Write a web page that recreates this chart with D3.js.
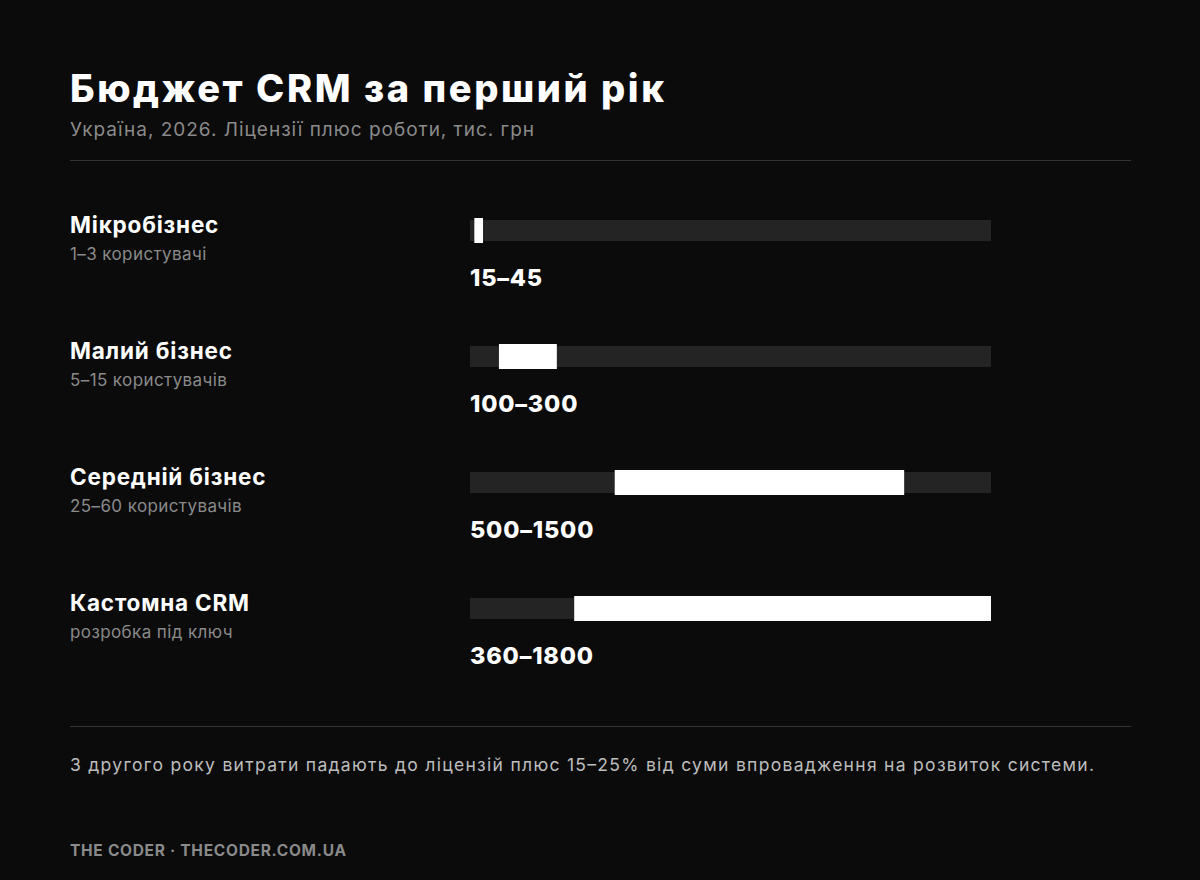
<!DOCTYPE html>
<html><head><meta charset="utf-8">
<script src="https://cdn.jsdelivr.net/npm/d3@7"></script>
<style>body{margin:0;background:#0b0b0b}</style>
</head><body><svg id="c" width="1200" height="880"></svg>
<script>
var categories = ["Мікробізнес", "Малий бізнес", "Середній бізнес", "Кастомна CRM"];
var subtitles = ["1–3 користувачі", "5–15 користувачів", "25–60 користувачів", "розробка під ключ"];
var lows = [15, 100, 500, 360];
var highs = [45, 300, 1500, 1800];
var maxValue = 1800;

var font = "Inter, 'Open Sans', sans-serif";
var svg = d3.select("#c").style("font-family", font);
svg.append("rect").attr("width", 1200).attr("height", 880).attr("fill", "#0b0b0b");

svg.append("text").attr("x", 70).attr("y", 102).attr("fill", "#fff")
  .attr("font-size", 38).attr("font-weight", 800).attr("textLength", 594).text("Бюджет CRM за перший рік");
svg.append("text").attr("x", 70).attr("y", 136).attr("fill", "#8a8a8a")
  .attr("font-size", 19).attr("textLength", 464).text("Україна, 2026. Ліцензії плюс роботи, тис. грн");
svg.append("line").attr("x1", 70).attr("x2", 1131).attr("y1", 160.5).attr("y2", 160.5).attr("stroke", "#333");

var x = d3.scaleLinear().domain([0, maxValue]).range([470, 991]);
var y = d3.scaleBand().domain(categories).range([200, 704]);

var rows = svg.selectAll("g.row").data(categories).enter().append("g")
  .attr("transform", function(d) { return "translate(0," + y(d) + ")"; });

rows.append("text").attr("x", 70).attr("y", 33).attr("fill", "#fff")
  .attr("font-size", 22.5).attr("font-weight", 700).attr("letter-spacing", 0.8).text(function(d) { return d; });
rows.append("text").attr("x", 70).attr("y", 60).attr("fill", "#8a8a8a")
  .attr("font-size", 17).attr("letter-spacing", 0.4).text(function(d, i) { return subtitles[i]; });
rows.append("rect").attr("x", x(0)).attr("y", 20).attr("width", x(maxValue) - x(0))
  .attr("height", 21).attr("fill", "#242424");
rows.append("rect").attr("x", function(d, i) { return x(lows[i]); }).attr("y", 18)
  .attr("width", function(d, i) { return x(highs[i]) - x(lows[i]); })
  .attr("height", 25).attr("fill", "#fff");
rows.append("text").attr("x", 470).attr("y", 86).attr("fill", "#fff")
  .attr("font-size", 23.5).attr("font-weight", 800).attr("letter-spacing", 0.8)
  .text(function(d, i) { return lows[i] + "–" + highs[i]; });

svg.append("line").attr("x1", 70).attr("x2", 1131).attr("y1", 726.5).attr("y2", 726.5).attr("stroke", "#333");
svg.append("text").attr("x", 70).attr("y", 771).attr("fill", "#bdbdbd").attr("font-size", 17.5)
  .attr("textLength", 1024).text("З другого року витрати падають до ліцензій плюс 15–25% від суми впровадження на розвиток системи.");
svg.append("text").attr("x", 70).attr("y", 856).attr("fill", "#8a8a8a").attr("font-size", 15.5)
  .attr("font-weight", 700).attr("textLength", 276).text("THE CODER · THECODER.COM.UA");
</script></body></html>
